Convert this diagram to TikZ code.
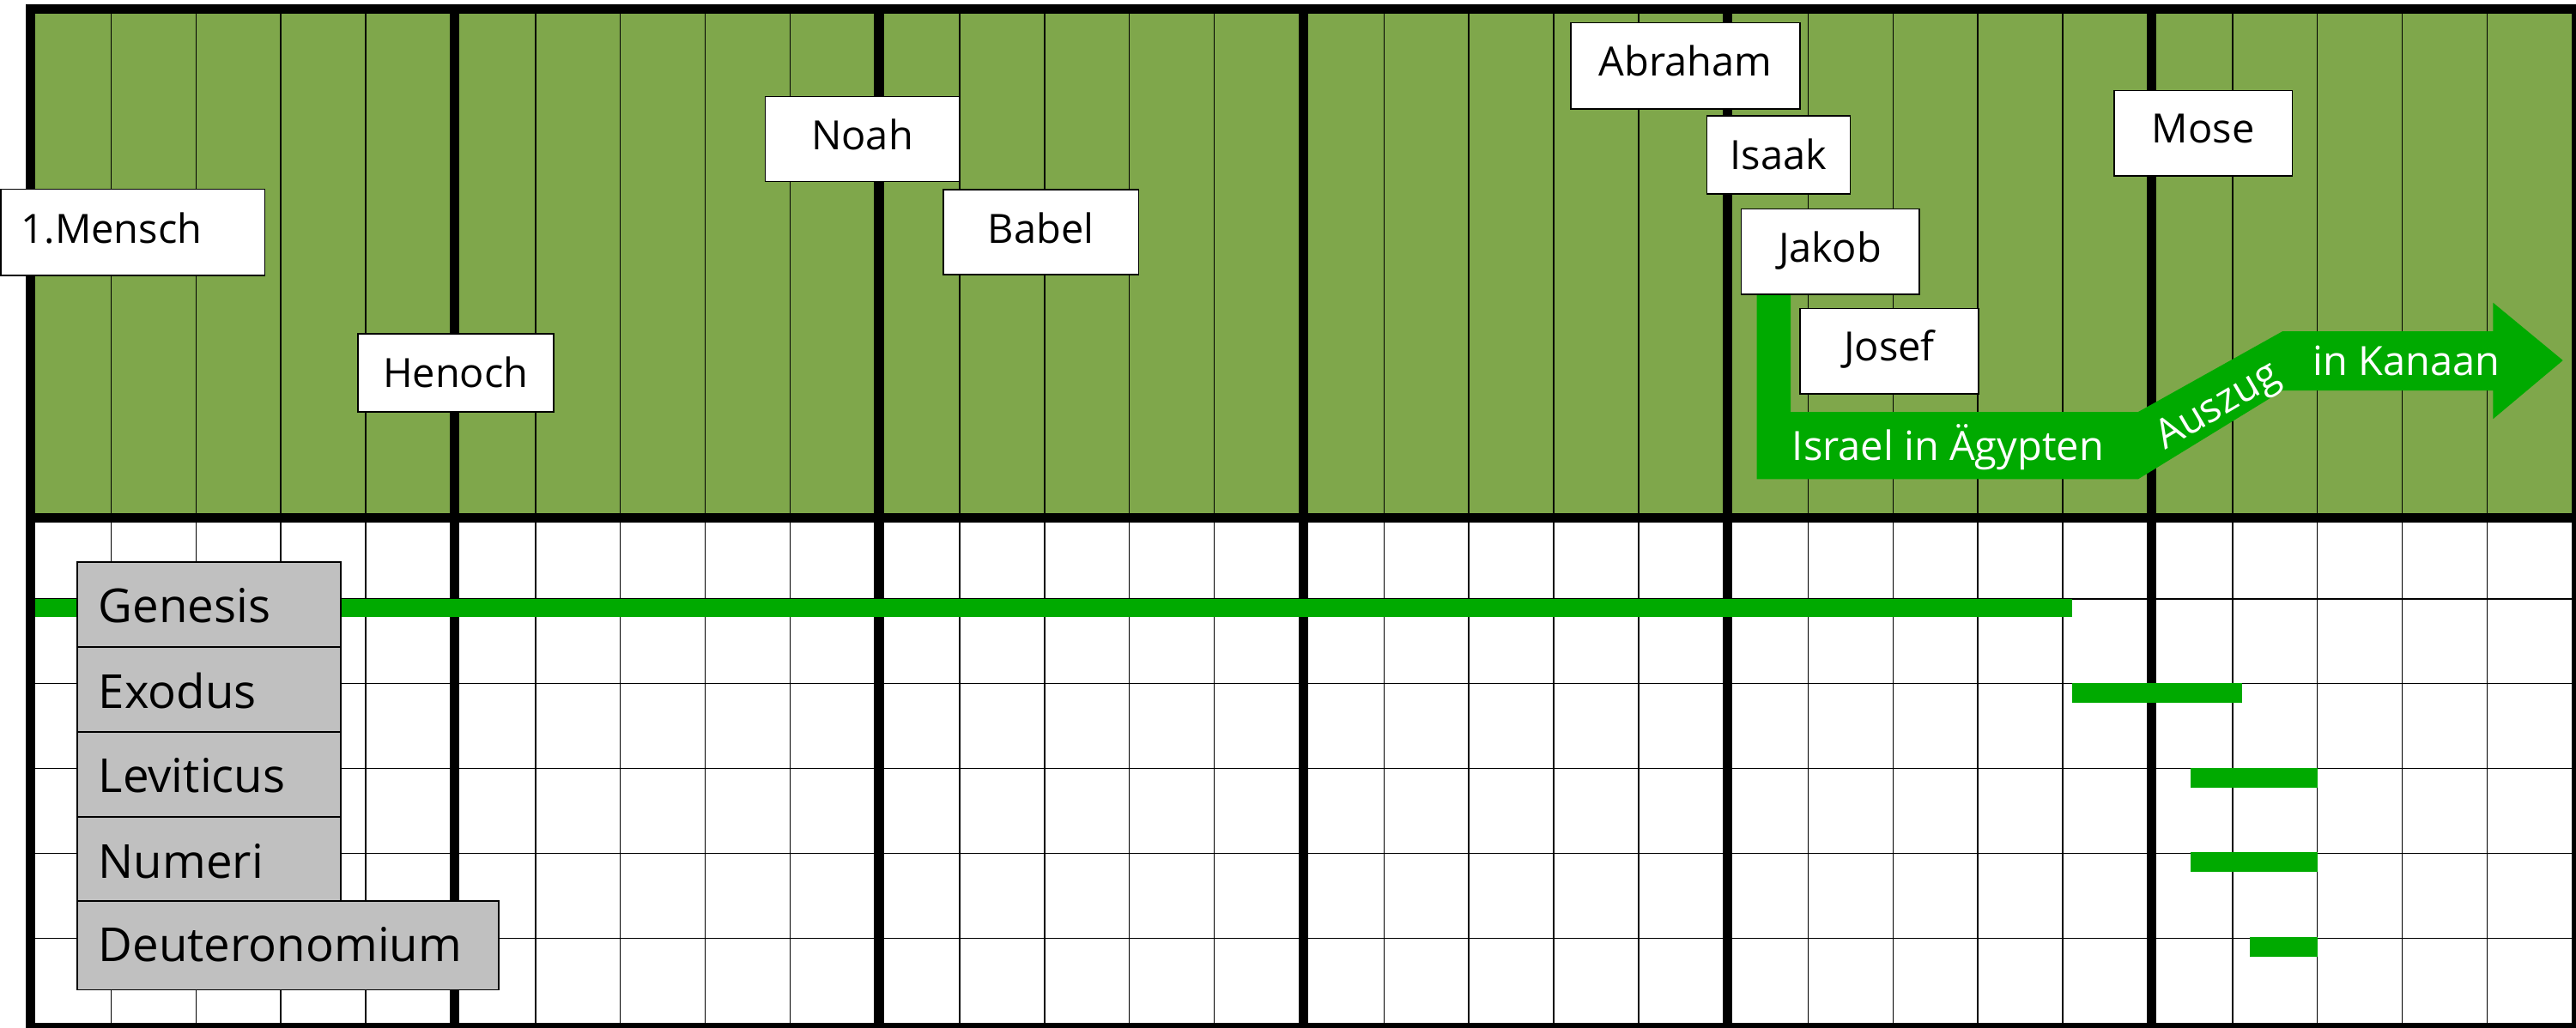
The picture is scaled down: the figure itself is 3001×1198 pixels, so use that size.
\documentclass[tikz,border=0pt]{standalone}
\usepackage{fontspec}
\setmainfont{Open Sans}
\definecolor{topgreen}{RGB}{127,167,75}
\definecolor{bargreen}{RGB}{0,170,0}
\definecolor{bookgrey}{RGB}{192,192,192}
\begin{document}
\begin{tikzpicture}[x=0.5pt,y=-0.5pt,
  thinline/.style={line width=0.75pt, draw=black},
  thickline/.style={line width=5.5pt, draw=black},
  lbl/.style={draw=black, line width=0.75pt, fill=white, inner sep=0pt, anchor=north west, text depth=0pt, font=\fontsize{23.5pt}{28pt}\selectfont},
  book/.style={draw=black, line width=0.75pt, fill=bookgrey, inner ysep=0pt, inner xsep=12.35pt, anchor=north west, align=left, text depth=0pt, font=\fontsize{27.3pt}{32pt}\selectfont},
  bar/.style={fill=bargreen},
  wlabel/.style={text=white, inner sep=0pt, font=\fontsize{23.5pt}{28pt}\selectfont},
]
\useasboundingbox (0,0) rectangle (3001,1198);
\clip (0,0) rectangle (3001,1198);
\fill[white] (0,0) rectangle (3001,1198);
% upper green area
\fill[topgreen] (30.65,5.5) rectangle (2996.15,598.9);
% thin grid
\foreach \k in {1,...,29}{
  \pgfmathsetmacro\xx{30.65+98.85*\k}
  \draw[thinline] (\xx,5.5) -- (\xx,1192.3);
}
\foreach \j in {7,...,11}{
  \pgfmathsetmacro\yy{5.5+98.9*\j}
  \draw[thinline] (30.65,\yy) -- (2996.15,\yy);
}
% thick grid
\foreach \k in {0,5,...,30}{
  \pgfmathsetmacro\xx{35.65+98.85*\k}
  \draw[thickline] (\xx,5) -- (\xx,1203);
}
\foreach \j in {0,6,12}{
  \pgfmathsetmacro\yy{10.5+98.9*\j}
  \draw[thickline] (30.15,\yy) -- (3007,\yy);
}
% green arrow
\fill[bargreen] (2046.7,342) -- (2046.7,558.3) -- (2491,558.3) -- (2659.3,455)
  -- (2904.3,455) -- (2904.3,488.3) -- (2985.7,420) -- (2904.3,352.7)
  -- (2904.3,386) -- (2659.3,386) -- (2491,480) -- (2086,480) -- (2086,342) -- cycle;
\node[wlabel, anchor=base west] (israel) at (2087.5,536.7) {Israel in Ägypten};
\node[wlabel, anchor=base west, rotate=30.5] (auszug) at (2522,525) {Auszug};
\node[wlabel, anchor=base west] (kanaan) at (2694.5,437.3) {in Kanaan};
% book bars
\fill[bar] (41,697.5) rectangle (2413.5,719);
\fill[bar] (2413.5,796.4) rectangle (2611.6,818.5);
\fill[bar] (2552,895.3) rectangle (2700,917.8);
\fill[bar] (2552,993) rectangle (2700,1015.6);
\fill[bar] (2621,1092.4) rectangle (2700,1115);
% person boxes
\node[lbl, minimum height=50pt, text height=12.7pt, inner xsep=12pt, text width=129.8pt, align=left] (mensch) at (0,220) {1.Mensch};
\node[lbl, minimum width=114pt, minimum height=45.5pt, text height=17.3pt] (henoch) at (416,388) {Henoch};
\node[lbl, minimum width=113.2pt, minimum height=49.65pt, text height=12.65pt] (noah) at (890.6,111.7) {Noah};
\node[lbl, minimum width=113.65pt, minimum height=49.5pt, text height=12.5pt] (babel) at (1098.4,220.3) {Babel};
\node[lbl, minimum width=133.5pt, minimum height=50.4pt, text height=11.7pt] (abraham) at (1829,25.7) {Abraham};
\node[lbl, minimum width=83.45pt, minimum height=45.5pt, text height=16.6pt] (isaak) at (1987.7,134.4) {Isaak};
\node[lbl, minimum width=103.75pt, minimum height=49.5pt, text height=12pt] (jakob) at (2027.5,243) {Jakob};
\node[lbl, minimum width=103.8pt, minimum height=49.7pt, text height=11.2pt] (josef) at (2096.4,358.6) {Josef};
\node[lbl, minimum width=103.85pt, minimum height=49.8pt, text height=11.4pt] (mose) at (2462,104.8) {Mose};
% book boxes
\node[book, text width=128.85pt, minimum height=49.7pt, text height=21.3pt] (genesis) at (89.3,654) {Genesis};
\node[book, text width=128.85pt, minimum height=49.3pt, text height=21.7pt] (exodus) at (89.3,753.4) {Exodus};
\node[book, text width=128.85pt, minimum height=49.65pt, text height=21.35pt] (leviticus) at (89.3,852) {Leviticus};
\node[book, text width=128.85pt, minimum height=48.85pt, text height=22.15pt] (numeri) at (89.3,951.3) {Numeri};
\node[book, text width=220.85pt, minimum height=51.85pt, text height=19.15pt] (deut) at (89.3,1049) {Deuteronomium};
\end{tikzpicture}
\end{document}
